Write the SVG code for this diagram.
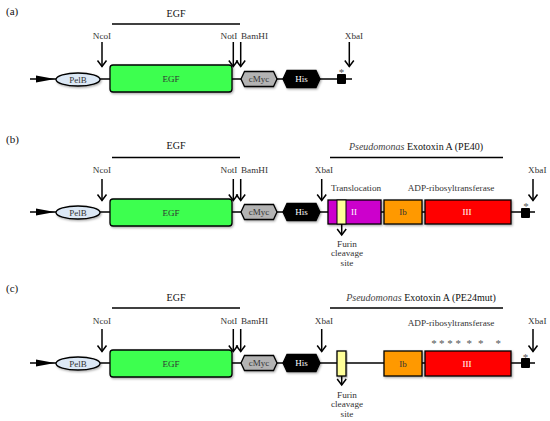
<svg xmlns="http://www.w3.org/2000/svg" width="550" height="421" viewBox="0 0 550 421" font-family="'Liberation Serif', 'Times New Roman', serif">
<style>
.lbl{font-family:"Liberation Serif",serif;font-size:9.2px;fill:#333;text-anchor:middle;}
.ttl{font-family:"Liberation Serif",serif;font-size:10px;fill:#111;text-anchor:middle;}
.pl{font-family:"Liberation Serif",serif;font-size:11px;fill:#111;}
.bx{font-family:"Liberation Serif",serif;font-size:9px;text-anchor:middle;}
.wt{fill:#fff;}
.dk{fill:#333;}
.bb{stroke:#000;stroke-width:1.3;fill:none;}
.bar{stroke:#000;stroke-width:1.3;}
.arr{stroke:#000;stroke-width:1.5;fill:none;marker-end:url(#ah);}
.sh{stroke:#000;stroke-width:1.3;filter:url(#ds);}
.ast{font-family:"Liberation Serif",serif;font-size:11px;fill:#555;text-anchor:middle;}
</style>
<defs>
<marker id="ah" markerUnits="userSpaceOnUse" viewBox="-8 -6 10 12" refX="0" refY="0" markerWidth="10" markerHeight="12" orient="auto" overflow="visible">
<path d="M-6,-4.5 L0,0 L-6,4.5" fill="none" stroke="#000" stroke-width="1.5"/>
</marker>
<filter id="ds" x="-20%" y="-30%" width="140%" height="160%">
<feDropShadow dx="1" dy="1.2" stdDeviation="0.8" flood-color="#000" flood-opacity="0.35"/>
</filter>
</defs>
<rect width="550" height="421" fill="#fff"/>

<!-- panel labels -->
<text class="pl" x="6" y="15">(a)</text>
<text class="pl" x="6" y="143">(b)</text>
<text class="pl" x="6" y="292">(c)</text>

<g id="connectors">
<!-- backbones -->
<line class="bb" x1="30" y1="79" x2="352" y2="79"/>
<line class="bb" x1="30" y1="212" x2="535" y2="212"/>
<line class="bb" x1="30" y1="363" x2="535" y2="363"/>
<!-- title bars -->
<line class="bar" x1="112" y1="24" x2="240" y2="24"/>
<line class="bar" x1="112" y1="157.5" x2="240" y2="157.5"/>
<line class="bar" x1="330" y1="157.5" x2="503" y2="157.5"/>
<line class="bar" x1="112" y1="308" x2="240" y2="308"/>
<line class="bar" x1="330" y1="308" x2="503" y2="308"/>
<!-- arrows a -->
<line class="arr" x1="102" y1="42" x2="102" y2="66.5"/>
<line class="arr" x1="233.3" y1="42" x2="233.3" y2="66.5"/>
<line class="arr" x1="240.7" y1="42" x2="240.7" y2="66.5"/>
<line class="arr" x1="349.3" y1="42" x2="349.3" y2="66.5"/>
<!-- arrows b -->
<line class="arr" x1="102" y1="179" x2="102" y2="200.5"/>
<line class="arr" x1="233.3" y1="179" x2="233.3" y2="200.5"/>
<line class="arr" x1="240.7" y1="179" x2="240.7" y2="200.5"/>
<line class="arr" x1="321.7" y1="179" x2="321.7" y2="200.5"/>
<line class="arr" x1="533" y1="179" x2="533" y2="200.5"/>
<line class="arr" x1="341.7" y1="224" x2="341.7" y2="235"/>
<!-- arrows c -->
<line class="arr" x1="102" y1="329" x2="102" y2="351.5"/>
<line class="arr" x1="233.3" y1="329" x2="233.3" y2="351.5"/>
<line class="arr" x1="240.7" y1="329" x2="240.7" y2="351.5"/>
<line class="arr" x1="321.7" y1="329" x2="321.7" y2="351.5"/>
<line class="arr" x1="533" y1="329" x2="533" y2="351.5"/>
<line class="arr" x1="341.7" y1="376" x2="341.7" y2="385"/>
</g>

<!-- titles and site labels -->
<g id="labels">
<text class="ttl" x="176" y="16.5">EGF</text>
<text class="ttl" x="176" y="149">EGF</text>
<text class="ttl" x="176" y="300.5">EGF</text>
<text class="ttl" x="416" y="149.5"><tspan font-style="italic" fill="#444">Pseudomonas</tspan> Exotoxin A (PE40)</text>
<text class="ttl" x="421" y="300.5"><tspan font-style="italic" fill="#444">Pseudomonas</tspan> Exotoxin A (PE24mut)</text>

<text class="lbl" x="102" y="39">NcoI</text>
<text class="lbl" x="229" y="39">NotI</text>
<text class="lbl" x="254.5" y="39">BamHI</text>
<text class="lbl" x="354" y="39">XbaI</text>

<text class="lbl" x="102" y="172.5">NcoI</text>
<text class="lbl" x="229" y="172.5">NotI</text>
<text class="lbl" x="254.5" y="172.5">BamHI</text>
<text class="lbl" x="324" y="172.5">XbaI</text>
<text class="lbl" x="537.3" y="172.5">XbaI</text>
<text class="lbl" x="356" y="190.5">Translocation</text>
<text class="lbl" x="451" y="190.5">ADP-ribosyltransferase</text>
<text class="lbl" x="347" y="246.5">Furin</text>
<text class="lbl" x="347" y="256">cleavage</text>
<text class="lbl" x="347" y="266">site</text>

<text class="lbl" x="102" y="323.5">NcoI</text>
<text class="lbl" x="229" y="323.5">NotI</text>
<text class="lbl" x="254.5" y="323.5">BamHI</text>
<text class="lbl" x="324" y="323.5">XbaI</text>
<text class="lbl" x="537.3" y="323.5">XbaI</text>
<text class="lbl" x="451" y="326">ADP-ribosyltransferase</text>
<text class="lbl" x="347" y="397.5">Furin</text>
<text class="lbl" x="347" y="407">cleavage</text>
<text class="lbl" x="347" y="417">site</text>
<text class="ast" x="434" y="347">*</text>
<text class="ast" x="441.7" y="347">*</text>
<text class="ast" x="450" y="347">*</text>
<text class="ast" x="458.3" y="347">*</text>
<text class="ast" x="469.3" y="347">*</text>
<text class="ast" x="480.7" y="347">*</text>
<text class="ast" x="498.3" y="347">*</text>
</g>

<!-- panel a nodes -->
<g id="a-promoter"><polygon points="36,75.5 55,79 36,82.5" fill="#000"/></g>
<g id="a-pelb"><ellipse class="sh" cx="78" cy="79.5" rx="22" ry="6.5" fill="#dce8f5"/><text class="bx dk" x="78" y="82.5">PelB</text></g>
<g id="a-egf"><rect class="sh" x="110" y="65" width="122" height="27" rx="3" fill="#3dff50"/><text class="bx dk" x="171" y="82">EGF</text></g>
<g id="a-cmyc"><polygon class="sh" points="241,79 244.5,71.5 273.5,71.5 277,79 273.5,86.5 244.5,86.5" fill="#b3b3b3"/><text class="bx dk" x="259" y="82">cMyc</text></g>
<g id="a-his"><polygon class="sh" points="283,79 287,70.5 316,70.5 320,79 316,87.5 287,87.5" fill="#000"/><text class="bx wt" x="301.5" y="82">His</text></g>
<g id="a-stop"><rect x="337" y="74" width="9" height="10" rx="1" fill="#000"/><text class="ast" x="341.5" y="76">*</text></g>

<!-- panel b nodes -->
<g id="b-promoter"><polygon points="36,208.5 55,212 36,215.5" fill="#000"/></g>
<g id="b-pelb"><ellipse class="sh" cx="78" cy="212.5" rx="22" ry="6.5" fill="#dce8f5"/><text class="bx dk" x="78" y="215.5">PelB</text></g>
<g id="b-egf"><rect class="sh" x="110" y="199" width="122" height="27" rx="3" fill="#3dff50"/><text class="bx dk" x="171" y="215.5">EGF</text></g>
<g id="b-cmyc"><polygon class="sh" points="241,212 244.5,204.5 273.5,204.5 277,212 273.5,219.5 244.5,219.5" fill="#b3b3b3"/><text class="bx dk" x="259" y="215">cMyc</text></g>
<g id="b-his"><polygon class="sh" points="283,212 287,203.5 316,203.5 320,212 316,220.5 287,220.5" fill="#000"/><text class="bx wt" x="301.5" y="215">His</text></g>
<g id="b-ii"><rect class="sh" x="328" y="200" width="53" height="24" fill="#cc00cc"/><rect x="337" y="200" width="9" height="24" fill="#ffff99" stroke="#000" stroke-width="1"/><text class="bx wt" x="354" y="215">II</text></g>
<g id="b-ib"><rect class="sh" x="384" y="200" width="38" height="24" fill="#ff9900"/><text class="bx dk" x="403" y="215">Ib</text></g>
<g id="b-iii"><rect class="sh" x="425" y="200" width="86" height="24" fill="#ff0000"/><text class="bx wt" x="467" y="215">III</text></g>
<g id="b-stop"><rect x="521" y="208" width="9" height="10" rx="1" fill="#000"/><text class="ast" x="526" y="210">*</text></g>

<!-- panel c nodes -->
<g id="c-promoter"><polygon points="36,359.5 55,363 36,366.5" fill="#000"/></g>
<g id="c-pelb"><ellipse class="sh" cx="78" cy="363.5" rx="22" ry="6.5" fill="#dce8f5"/><text class="bx dk" x="78" y="366.5">PelB</text></g>
<g id="c-egf"><rect class="sh" x="110" y="350" width="122" height="27" rx="3" fill="#3dff50"/><text class="bx dk" x="171" y="366.5">EGF</text></g>
<g id="c-cmyc"><polygon class="sh" points="241,363 244.5,355.5 273.5,355.5 277,363 273.5,370.5 244.5,370.5" fill="#b3b3b3"/><text class="bx dk" x="259" y="366">cMyc</text></g>
<g id="c-his"><polygon class="sh" points="283,363 287,354.5 316,354.5 320,363 316,371.5 287,371.5" fill="#000"/><text class="bx wt" x="301.5" y="366">His</text></g>
<g id="c-furin"><rect class="sh" x="337" y="351" width="9" height="25" fill="#ffff99"/></g>
<g id="c-ib"><rect class="sh" x="384" y="351" width="38" height="25" fill="#ff9900"/><text class="bx dk" x="403" y="366.5">Ib</text></g>
<g id="c-iii"><rect class="sh" x="425" y="351" width="86" height="25" fill="#ff0000"/><text class="bx wt" x="467" y="366.5">III</text></g>
<g id="c-stop"><rect x="521" y="358" width="9" height="10" rx="1" fill="#000"/><text class="ast" x="525.5" y="361">*</text></g>
</svg>
